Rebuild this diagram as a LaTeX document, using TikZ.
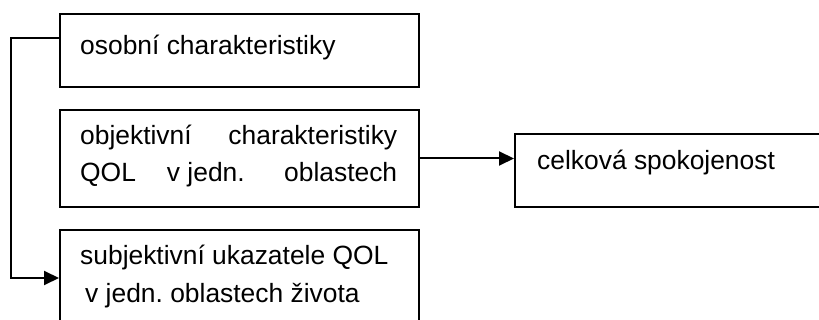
\documentclass[tikz,border=0pt]{standalone}
\usepackage{fontspec}
\setmainfont{Liberation Sans}
\usetikzlibrary{arrows.meta}
\frenchspacing
\tikzset{
  box/.style={draw, line width=2pt, rectangle, inner sep=0pt, minimum width=359pt},
  txt/.style={anchor=base west, inner sep=0pt, font=\fontsize{26.4}{37}\selectfont},
  conn/.style={line width=2pt, -{Triangle[length=15pt,width=14pt]}}
}
\begin{document}
\begin{tikzpicture}[x=1pt,y=-1pt]
\useasboundingbox (0,0) rectangle (819,320);
\fill[white] (0,0) rectangle (819,320);
\clip (0,0) rectangle (819,320);
\node[box, minimum height=73pt] (box1) at (239.5,50.5) {};
\node[box, minimum height=97pt] (box2) at (239.5,158.5) {};
\node[box, minimum height=110pt] (box3) at (239.5,285) {};
\node[box, minimum width=330pt, minimum height=73pt] (box4) at (680,170.5) {};
\node[txt] (t1) at (80,55) {osobní charakteristiky};
\node[txt] (t2a) at (80,145) {\makebox[317pt][s]{objektivní charakteristiky}};
\node[txt] (t2b) at (80,182) {\makebox[317pt][l]{QOL\hspace{31pt}v jedn.\hfill oblastech}};
\node[txt] (t3a) at (80,265) {subjektivní ukazatele QOL};
\node[txt] (t3b) at (85,302) {v jedn. oblastech života};
\node[txt] (t4) at (537,170) {celková spokojenost};
\draw[conn] ([yshift=12.5pt]box1.west) -- ++(-48,0) |- ([yshift=7pt]box3.west);
\draw[conn] (box2.east) -- (box2.east -| box4.west);
\end{tikzpicture}
\end{document}
